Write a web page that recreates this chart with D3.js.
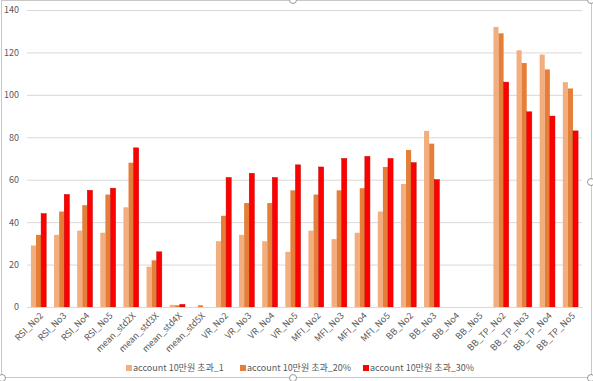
<!DOCTYPE html>
<html><head><meta charset="utf-8">
<script src="https://cdn.jsdelivr.net/npm/d3@7"></script>
<style>
html,body{margin:0;padding:0;background:#fff;}
text{font-family:"Noto Sans CJK KR","Noto Sans",sans-serif;fill:#595959;}
</style></head>
<body>
<svg id="chart" width="593" height="381"></svg>
<script>
const categories = ["RSI_No2","RSI_No3","RSI_No4","RSI_No5","mean_std2X","mean_std3X","mean_std4X","mean_std5X",
  "VR_No2","VR_No3","VR_No4","VR_No5","MFI_No2","MFI_No3","MFI_No4","MFI_No5",
  "BB_No2","BB_No3","BB_No4","BB_No5","BB_TP_No2","BB_TP_No3","BB_TP_No4","BB_TP_No5"];
const seriesNames = ["account 10만원 초과_1","account 10만원 초과_20%","account 10만원 초과_30%"];
const series1 = [29,34,36,35,47,19,1,0, 31,34,31,26,36,32,35,45, 58,83,0,0,132,121,119,106];
const series2 = [34,45,48,53,68,22,0.8,0.8, 43,49,49,55,53,55,56,66, 74,77,0,0,129,115,112,103];
const series3 = [44,53,55,56,75,26,1.2,0, 61,63,61,67,66,70,71,70, 68,60,0,0,106,92,90,83];
const yTicks = [0,20,40,60,80,100,120,140];
const colors = ["#F2AE7F","#E57E38","#FF0000"];
const strokes = ["none","none","#C00000"];

const svg = d3.select("#chart");
const x0 = d3.scaleBand().domain(categories).range([27,582]).paddingInner(0.34).paddingOuter(0.17);
const x1 = d3.scaleBand().domain([0,1,2]).range([0,x0.bandwidth()]);
const y = d3.scaleLinear().domain([0,140]).range([307,10]);

// frame
svg.append("rect").attr("x",1.5).attr("y",0.5).attr("width",590).attr("height",377)
  .attr("fill","none").attr("stroke","#c8c8c8").attr("stroke-width",1);

// gridlines
const yAxis = d3.axisLeft(y).tickValues(yTicks).tickSize(-(582-27)).tickPadding(8);
const gy = svg.append("g").attr("transform","translate(27,0)").call(yAxis);
gy.select(".domain").remove();
gy.selectAll(".tick line").attr("stroke","#d9d9d9");
gy.selectAll(".tick text").attr("font-size","9px").attr("fill","#595959").attr("x",-8);

// bars
const data = [series1,series2,series3];
data.forEach((s,si)=>{
  svg.append("g").selectAll("rect").data(s).join("rect")
    .attr("x",(d,i)=>x0(categories[i])+x1(si))
    .attr("y",d=>y(d))
    .attr("width",x1.bandwidth())
    .attr("height",d=>y(0)-y(d))
    .attr("fill",colors[si])
    .attr("stroke",strokes[si]).attr("stroke-width",0.5);
});

// x axis
const xAxis = d3.axisBottom(x0).tickSize(0).tickPadding(0);
const gx = svg.append("g").attr("transform","translate(0,307)").call(xAxis);
gx.select(".domain").attr("stroke","#d9d9d9");
gx.selectAll(".tick text")
  .attr("font-size","9px").attr("fill","#595959")
  .attr("text-anchor","end")
  .attr("dy","0.35em")
  .attr("transform","translate(3,7) rotate(-45)")
  .attr("y",0).attr("x",0);

// legend
const legX = [126,240,363];
const leg = svg.append("g");
seriesNames.forEach((n,i)=>{
  leg.append("rect").attr("x",legX[i]).attr("y",365).attr("width",6).attr("height",6).attr("fill",colors[i]);
  leg.append("text").attr("x",legX[i]+7).attr("y",368).attr("dy","0.35em").attr("font-size","9px").text(n);
});

// selection handles
[[293,0],[591,182],[293,378],[591,0],[2,378],[591,378]].forEach(p=>{
  svg.append("circle").attr("cx",p[0]).attr("cy",p[1]).attr("r",3.5).attr("fill","#fff").attr("stroke","#999");
});
</script>
</body></html>
